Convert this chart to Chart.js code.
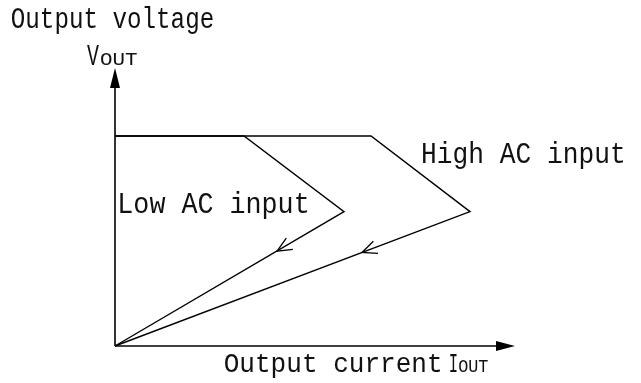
<!DOCTYPE html>
<html>
<head>
<meta charset="utf-8">
<script src="https://cdn.jsdelivr.net/npm/chart.js@4/dist/chart.umd.min.js"></script>
<style>
html,body{margin:0;padding:0;background:#fff;}
canvas{display:block;}
</style>
</head>
<body>
<canvas id="c" width="641" height="383"></canvas>
<script>
// ---- data (axis units: 0..100 on both axes) ----
const lowX  = [0, 32.25, 57.25, 0];  // Low AC input curve
const lowY  = [75, 75, 48, 0];
const highX = [0, 64, 88.75, 0];     // High AC input curve
const highY = [75, 75, 48, 0];
const axisXEnd = 100;                // x-axis arrow tip
const axisYEnd = 99.3;               // y-axis arrow tip
const arrowX = [40.5, 61.75];        // direction chevrons on return lines
const arrowY = [33.9, 33.4];
const labelTexts = ["Output voltage", "V", "OUT", "Low AC input", "High AC input", "Output current", "I", "OUT"];

const toPts = (xs, ys) => xs.map((x, i) => ({x: x, y: ys[i]}));

const ds = (pts, w) => ({
  data: pts, showLine: true, borderColor: '#000', borderWidth: w,
  pointRadius: 0, fill: false, tension: 0, clip: false
});

function fitText(ctx, txt, left, right, baseline, capTop, family) {
  ctx.save();
  ctx.font = '40px ' + family;
  const m = ctx.measureText(txt);
  const w = m.actualBoundingBoxLeft + m.actualBoundingBoxRight;
  const cap = ctx.measureText('H').actualBoundingBoxAscent;
  const sx = (right - left) / w;
  const sy = (baseline - capTop) / cap;
  ctx.translate(left, baseline);
  ctx.scale(sx, sy);
  ctx.fillStyle = '#111';
  ctx.textBaseline = 'alphabetic';
  ctx.textAlign = 'left';
  ctx.fillText(txt, m.actualBoundingBoxLeft, 0);
  ctx.restore();
}

const deco = {
  id: 'deco',
  beforeDraw(chart) {
    const c = chart.ctx;
    c.save(); c.fillStyle = '#fff'; c.fillRect(0, 0, chart.width, chart.height); c.restore();
  },
  afterDatasetsDraw(chart) {
    const c = chart.ctx, xs = chart.scales.x, ys = chart.scales.y;
    const ox = xs.getPixelForValue(0), oy = ys.getPixelForValue(0);
    c.save();
    c.fillStyle = '#000';
    // y-axis arrowhead
    const ty = ys.getPixelForValue(axisYEnd);
    c.beginPath(); c.moveTo(ox, ty); c.lineTo(ox - 5, ty + 20); c.lineTo(ox + 5, ty + 20); c.closePath(); c.fill();
    // x-axis arrowhead
    const tx = xs.getPixelForValue(axisXEnd);
    c.beginPath(); c.moveTo(tx, oy); c.lineTo(tx - 19, oy - 5); c.lineTo(tx - 19, oy + 5); c.closePath(); c.fill();
    // open chevrons pointing toward origin
    c.strokeStyle = '#000'; c.lineWidth = 1.3;
    arrowX.forEach((ax, i) => {
      const px = xs.getPixelForValue(ax), py = ys.getPixelForValue(arrowY[i]);
      const back = Math.atan2(py - oy, px - ox);
      const L = 16, a = 0.42;
      c.beginPath();
      c.moveTo(px + L * Math.cos(back - a), py + L * Math.sin(back - a));
      c.lineTo(px, py);
      c.lineTo(px + L * Math.cos(back + a), py + L * Math.sin(back + a));
      c.stroke();
    });
    c.restore();
  },
  afterDraw(chart) {
    const c = chart.ctx;
    const f = '"Liberation Mono"';
    fitText(c, labelTexts[0], 12, 213, 28, 8, f);
    fitText(c, labelTexts[1], 87, 99, 65, 45, f);
    fitText(c, labelTexts[2], 101, 137, 65, 52, f);
    fitText(c, labelTexts[3], 120, 307, 213, 193, f);
    fitText(c, labelTexts[4], 423, 623, 163, 143, f);
    fitText(c, labelTexts[5], 225, 440, 372, 353, f);
    fitText(c, labelTexts[6], 450, 457, 372, 353, f);
    fitText(c, labelTexts[7], 459, 488, 372, 360, f);
  }
};

new Chart(document.getElementById('c'), {
  type: 'scatter',
  data: {
    datasets: [
      ds(toPts([0, 0], [0, axisYEnd - 6]), 1.6),
      ds(toPts([0, axisXEnd - 4], [0, 0]), 1.6),
      ds(toPts(lowX, lowY), 1.4),
      ds(toPts(highX, highY), 1.4)
    ]
  },
  options: {
    responsive: false,
    devicePixelRatio: 1,
    animation: false,
    layout: {padding: {left: 115, right: 126, top: 66, bottom: 37}},
    plugins: {legend: {display: false}, tooltip: {enabled: false}},
    scales: {
      x: {type: 'linear', min: 0, max: 100, display: false},
      y: {type: 'linear', min: 0, max: 100, display: false}
    }
  },
  plugins: [deco]
});
</script>
</body>
</html>
